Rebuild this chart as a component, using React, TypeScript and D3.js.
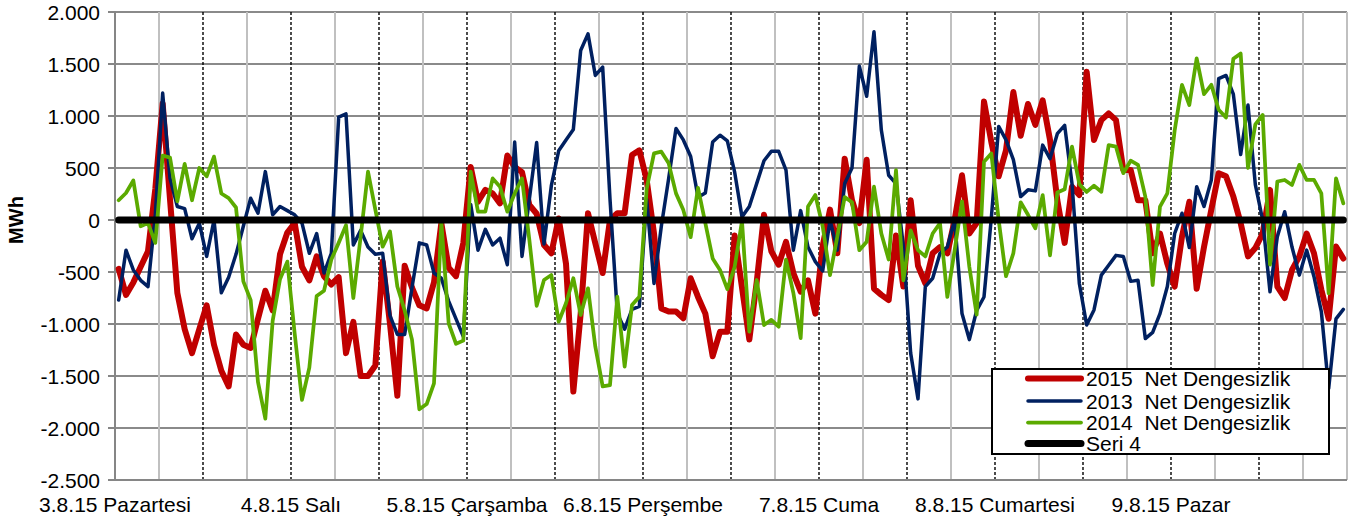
import React from "react";
import * as d3 from "d3";

const dayLabels = [
  "3.8.15 Pazartesi",
  "4.8.15 Salı",
  "5.8.15 Çarşamba",
  "6.8.15 Perşembe",
  "7.8.15 Cuma",
  "8.8.15 Cumartesi",
  "9.8.15 Pazar",
];

const yTicks = [-2500, -2000, -1500, -1000, -500, 0, 500, 1000, 1500, 2000];

const seriesNames = [
  "2015  Net Dengesizlik",
  "2013  Net Dengesizlik",
  "2014  Net Dengesizlik",
  "Seri 4",
];

// hourly values, 7 days x 24 hours
const net2015 = [
  -470, -720, -600, -450, -300, 300, 1120, 200, -700, -1050,
  -1280, -1050, -820, -1200, -1450, -1600, -1100, -1200, -1230, -950,
  -680, -870, -330, -120, -30, -450, -580, -350, -540, -620,
  -550, -1280, -980, -1500, -1500, -1400, -400, -1000, -1690, -440,
  -650, -820,
  -850, -600, -30, -460, -540, -220, 510, 175,
  290, 255, 160, 620, 510, 460, 145, 60, -240, -320,
  15, -420, -1650, -900, 65, -225, -510, 0, 65, 65,
  625, 670, 385, -130, -850, -880, -880, -945, -560, -740,
  -900, -1310, -1075, -1075,
  -150, -650, -1150, -600, 50, -300,
  -430, -210, -510, -690, -580, -900, -250, 100, -320, 590,
  190, -30, 580, -660, -720, -770, -150, -640, 190, -440,
  -610, -320, -260, -320, 0, 430, -130, -30, 1140, 750,
  420, 670, 1230, 810, 1115, 915,
  1150, 770, 190, -220,
  320, 240, 1425, 770, 960, 1025, 960, 480, 480, 190,
  190, -320, -130, -420, -640, -160, 175, -660, -260, 100,
  450, 420, 225, -30, -350, -270, -130, 290, -640, -750,
  -480, -350, -130, -320, -670, -950, -255, -370,
];

const net2013 = [
  -770, -290, -480, -580, -640, 50, 1220, 400, 130, 110,
  -180, -30, -350, 0, -700, -550, -330, -60, 210, 65,
  465, 50, 130, 90, 50, -30, -320, -130, -510, -320,
  990, 1020, -240, -100, -260, -330, -320, -920, -1100, -1100,
  -650, -220,
  -240, -510, -560, -780, -950, -1120, 150, -290,
  -90, -240, -175, -430, 750, -350, 200, 745, -230, 330,
  665, 770, 870, 1630, 1790, 1390, 1470, 200, -900, -1050,
  -860, -830, 200, -610, -60, 400, 880, 770, 610, 220,
  260, 750, 815, 760,
  460, 30, 130, 350, 570, 660,
  660, 480, -290, 90, -260, -400, -490, 0, -290, 350,
  500, 1480, 1190, 1810, 865, 430, 350, -250, -1280, -1720,
  -640, -560, -320, -260, 0, -900, -1150, -870, -740, 20,
  900, 770, 580, 225, 290, 280,
  720, 590, 830, 910,
  350, -610, -1010, -865, -530, -435, -340, -350, -590, -580,
  -1140, -1080, -900, -640, -130, 65, -265, 320, 130, 385,
  1360, 1390, 1210, 630, 1105, 340, 0, -690, -160, 80,
  -260, -530, -290, -545, -880, -1620, -950, -860,
];

const net2014 = [
  190, 260, 380, -60, -30, -220, 620, 600, 180, 540,
  190, 500, 420, 610, 255, 210, 120, -590, -770, -1560,
  -1910, -970, -570, -400, -1090, -1730, -1420, -730, -680, -380,
  -220, -50, -750, -160, 465, 100, -256, -110, -640, -870,
  -1150, -1820,
  -1770, -1570, -20, -995, -1190, -1160, 465, 80,
  80, 400, 320, 80, 255, 400, -190, -825, -577, -529,
  -978, -800, -560, -913, -657, -1218, -1600, -1587, -737, -1410,
  -817, -737, 300, 640, 657, 545, 256, 95, -165, 310,
  -30, -370, -480, -665,
  -450, -10, -1074, -577, -1010, -960,
  -1026, -380, -700, -1135, 130, 240, -60, -530, -160, 220,
  170, -290, -210, 320, -130, -380, 480, -580, -100, -290,
  -350, -130, -30, -740, -290, 180, -450, -910, 560, 640,
  0, -540, -320, 170, 50, -80,
  240, -340, 265, 295,
  705, 345, 270, 330, 272, 720, 705, 450, 570, 530,
  225, -625, 128, 256, 860, 1300, 1105, 1555, 1210, 1300,
  1060, 985, 1550, 1600, 500, 920, 1010, -430, 370, 385,
  337, 530, 385, 385, 256, -705, 400, 160,
];

// "Seri 4" is a constant zero reference line
const seri4 = net2015.map(() => 0);

const FONT = "'Liberation Sans', Arial, sans-serif";

export default function App() {
  const W = 1352;
  const H = 522;
  const left = 115;
  const right = 1347;
  const top = 12;
  const bottom = 480;
  const nPts = net2015.length;

  const x = d3.scaleLinear().domain([0, nPts]).range([left, right]);
  const y = d3.scaleLinear().domain([-2500, 2000]).range([bottom, top]);
  const fmt = d3
    .formatLocale({
      decimal: ",",
      thousands: ".",
      grouping: [3],
      currency: ["", ""],
      minus: "-",
    })
    .format(",");

  const line = d3
    .line<number>()
    .x((_, i) => x(i + 0.5))
    .y((d) => y(d));

  const vKeys = d3.range(1, nPts / 6 + 1).map((k) => k * 6);

  const series = [
    { name: seriesNames[0], data: net2015, color: "#C00000", width: 6 },
    { name: seriesNames[1], data: net2013, color: "#002060", width: 3.5 },
    { name: seriesNames[2], data: net2014, color: "#5BAA00", width: 3.75 },
    { name: seriesNames[3], data: seri4, color: "#000000", width: 7 },
  ];

  const legX = 992;
  const legY = 369;
  const legW = 337;
  const legH = 85;
  const rowYs = [378.5, 401, 422.5, 443.5];

  return (
    <svg
      width={W}
      height={H}
      style={{ position: "absolute", left: 0, top: 0, background: "#fff" }}
      fontFamily={FONT}
    >
      <rect x={0} y={0} width={W} height={H} fill="#fff" />
      {/* horizontal gridlines */}
      {yTicks.map((t) => (
        <line
          key={"h" + t}
          x1={left}
          x2={right}
          y1={y(t)}
          y2={y(t)}
          stroke="#8a8a8a"
          strokeWidth={2}
        />
      ))}
      {/* vertical gridlines */}
      {vKeys.map((k) =>
        k % 12 === 0 && k < nPts ? (
          <line
            key={"v" + k}
            x1={x(k)}
            x2={x(k)}
            y1={top}
            y2={bottom}
            stroke="#000"
            strokeWidth={1.4}
            strokeDasharray="3 2"
          />
        ) : (
          <line
            key={"v" + k}
            x1={x(k)}
            x2={x(k)}
            y1={top}
            y2={bottom}
            stroke="#c0c0c0"
            strokeWidth={2}
          />
        )
      )}
      {/* axes */}
      <line x1={left} x2={left} y1={top - 1} y2={bottom + 1} stroke="#868686" strokeWidth={2} />
      <line x1={left} x2={right} y1={bottom} y2={bottom} stroke="#868686" strokeWidth={2} />
      {yTicks.map((t) => (
        <g key={"t" + t}>
          <line x1={left - 7} x2={left} y1={y(t)} y2={y(t)} stroke="#868686" strokeWidth={2} />
          <text
            x={100}
            y={y(t)}
            dy="0.36em"
            textAnchor="end"
            fontSize={21}
            fill="#000"
          >
            {fmt(t)}
          </text>
        </g>
      ))}
      <text
        transform={`translate(23, ${y(0)}) rotate(-90)`}
        textAnchor="middle"
        fontSize={20}
        fontWeight="bold"
        fill="#000"
      >
        MWh
      </text>
      {dayLabels.map((d, i) => (
        <text
          key={d}
          x={x(i * 24)}
          y={512}
          textAnchor="middle"
          fontSize={21}
          fill="#000"
        >
          {d}
        </text>
      ))}
      {/* series */}
      {series.map((s) => (
        <path
          key={s.name}
          d={line(s.data) || ""}
          fill="none"
          stroke={s.color}
          strokeWidth={s.width}
          strokeLinejoin="round"
          strokeLinecap="round"
        />
      ))}
      {/* legend */}
      <rect
        x={legX}
        y={legY}
        width={legW}
        height={legH}
        fill="#fff"
        stroke="#000"
        strokeWidth={2}
      />
      {series.map((s, i) => (
        <g key={"l" + s.name}>
          <line
            x1={1028}
            x2={1081}
            y1={rowYs[i]}
            y2={rowYs[i]}
            stroke={s.color}
            strokeWidth={s.width}
            strokeLinecap="round"
          />
          <text
            x={1086}
            y={rowYs[i]}
            dy="0.36em"
            fontSize={21}
            fill="#000"
            style={{ whiteSpace: "pre" }}
          >
            {s.name}
          </text>
        </g>
      ))}
    </svg>
  );
}
